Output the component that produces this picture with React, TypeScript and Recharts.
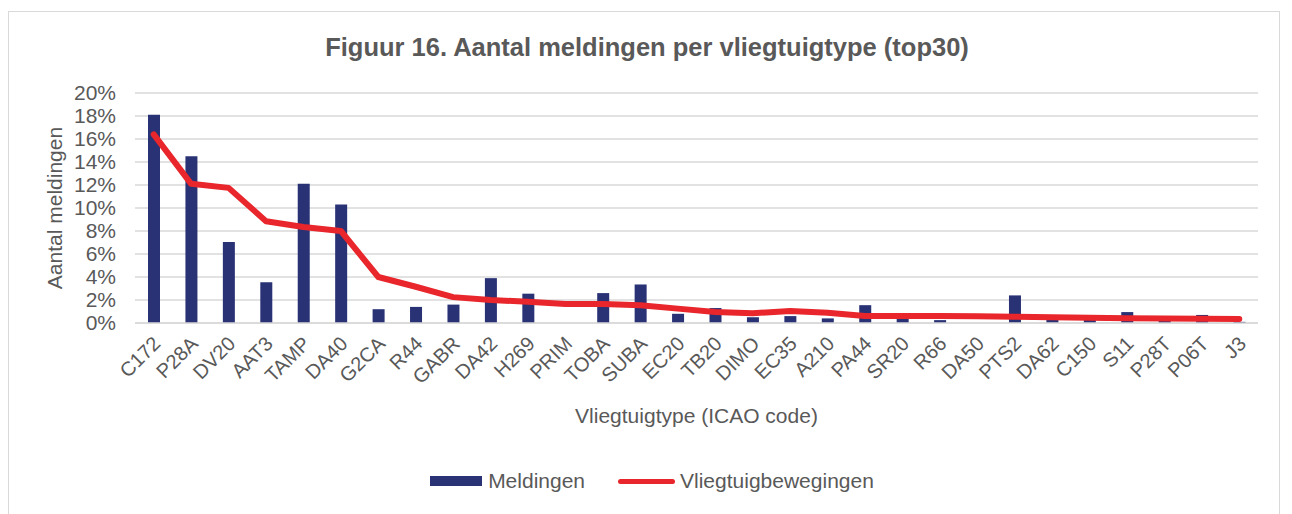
import {
  Bar,
  CartesianGrid,
  ComposedChart,
  Legend,
  Line,
  XAxis,
  YAxis,
} from 'recharts';

const CATEGORIES = [
  'C172', 'P28A', 'DV20', 'AAT3', 'TAMP', 'DA40', 'G2CA', 'R44', 'GABR', 'DA42',
  'H269', 'PRIM', 'TOBA', 'SUBA', 'EC20', 'TB20', 'DIMO', 'EC35', 'A210', 'PA44',
  'SR20', 'R66', 'DA50', 'PTS2', 'DA62', 'C150', 'S11', 'P28T', 'P06T', 'J3',
];

// percentages
const MELDINGEN = [
  18.1, 14.5, 7.05, 3.55, 12.1, 10.3, 1.2, 1.4, 1.6, 3.9,
  2.55, 0, 2.6, 3.35, 0.8, 1.3, 0.5, 0.6, 0.4, 1.55,
  0.55, 0.25, 0, 2.4, 0.5, 0.3, 0.95, 0.25, 0.7, 0.1,
];

const BEWEGINGEN = [
  16.4, 12.1, 11.75, 8.85, 8.35, 8.0, 4.0, 3.15, 2.25, 2.0,
  1.85, 1.65, 1.65, 1.55, 1.25, 0.95, 0.85, 1.05, 0.9, 0.6,
  0.6, 0.6, 0.58, 0.55, 0.5, 0.45, 0.42, 0.4, 0.38, 0.35,
];

const Y_TICKS = [0, 2, 4, 6, 8, 10, 12, 14, 16, 18, 20];

const NAVY = '#283275';
const RED = '#e8262b';
const TEXT = '#595959';
const GRID = '#d9d9d9';
const FONT = '"Liberation Sans", Arial, sans-serif';

const data = CATEGORIES.map((name, i) => ({
  name,
  meldingen: MELDINGEN[i],
  bewegingen: BEWEGINGEN[i],
}));

function XTick({ x, y, payload }: any) {
  return (
    <g transform={`translate(${x + 8},${y + 22})`}>
      <text
        textAnchor="end"
        transform="rotate(-45)"
        fill={TEXT}
        fontSize={20}
        fontFamily={FONT}
      >
        {payload.value}
      </text>
    </g>
  );
}

function LegendContent() {
  return (
    <div
      style={{
        display: 'flex',
        justifyContent: 'center',
        alignItems: 'center',
        height: 24,
        paddingLeft: 37,
        fontFamily: FONT,
        fontSize: 21,
        color: TEXT,
      }}
    >
      <span style={{ width: 52, height: 10, background: NAVY, marginRight: 6 }} />
      <span style={{ marginRight: 33 }}>Meldingen</span>
      <span
        style={{
          width: 57,
          height: 5,
          background: RED,
          borderRadius: 3,
          marginRight: 5,
        }}
      />
      <span>Vliegtuigbewegingen</span>
    </div>
  );
}

export default function App() {
  return (
    <div
      style={{
        position: 'relative',
        top: 3,
        width: 1270,
        height: 504,
        border: `1px solid ${GRID}`,
        fontFamily: FONT,
      }}
    >
      <div
        style={{
          position: 'absolute',
          top: 23,
          left: 0,
          width: 1276,
          textAlign: 'center',
          fontSize: 25.5,
          lineHeight: '25px',
          fontWeight: 'bold',
          color: TEXT,
        }}
      >
        Figuur 16. Aantal meldingen per vliegtuigtype (top30)
      </div>
      <ComposedChart
        width={1270}
        height={502}
        data={data}
        margin={{ top: 81, right: 21, bottom: 21, left: 0 }}
      >
        <CartesianGrid vertical={false} stroke={GRID} strokeWidth={1.5} />
        <XAxis
          dataKey="name"
          interval={0}
          height={146}
          tick={<XTick />}
          tickLine={false}
          tickSize={0}
          tickMargin={0}
          axisLine={{ stroke: GRID, strokeWidth: 1.5 }}
          label={{
            value: 'Vliegtuigtype (ICAO code)',
            position: 'insideTop',
            offset: 85,
            fill: TEXT,
            fontSize: 21,
            fontFamily: FONT,
          }}
        />
        <YAxis
          width={126}
          domain={[0, 20]}
          ticks={Y_TICKS}
          interval={0}
          tickFormatter={(v) => `${v}%`}
          tick={{ fill: TEXT, fontSize: 21, fontFamily: FONT }}
          tickLine={false}
          tickSize={0}
          tickMargin={19}
          axisLine={false}
          label={{
            value: 'Aantal meldingen',
            angle: -90,
            position: 'insideLeft',
            offset: 46,
            fill: TEXT,
            fontSize: 21,
            fontFamily: FONT,
            style: { textAnchor: 'middle' },
          }}
        />
        <Legend verticalAlign="bottom" content={<LegendContent />} />
        <Bar
          dataKey="meldingen"
          name="Meldingen"
          fill={NAVY}
          barSize={12}
          isAnimationActive={false}
        />
        <Line
          type="linear"
          dataKey="bewegingen"
          name="Vliegtuigbewegingen"
          stroke={RED}
          strokeWidth={6}
          strokeLinecap="round"
          strokeLinejoin="round"
          dot={false}
          activeDot={false}
          isAnimationActive={false}
        />
      </ComposedChart>
    </div>
  );
}
